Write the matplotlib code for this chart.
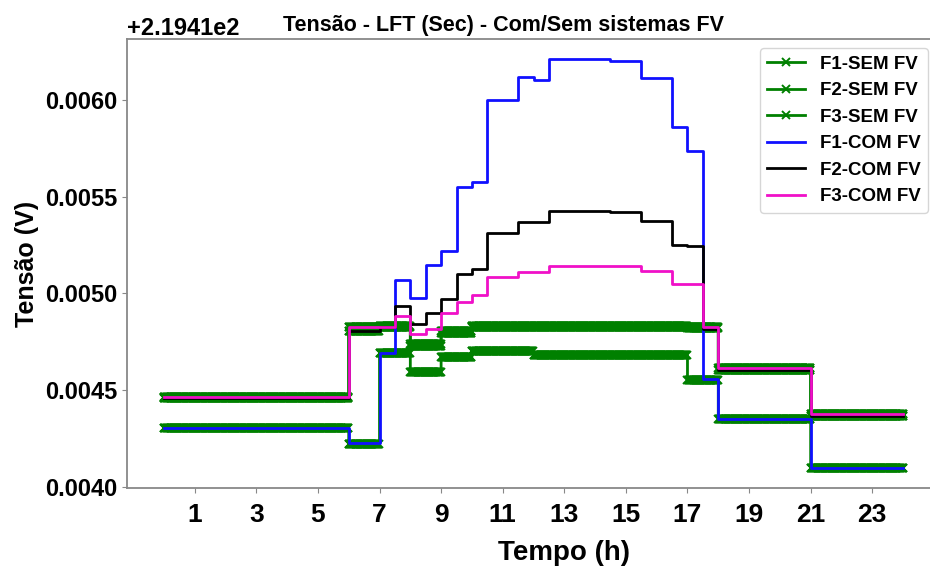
import numpy as np
import matplotlib
matplotlib.use("Agg")
import matplotlib.pyplot as plt
from matplotlib.ticker import MultipleLocator

plt.rcParams['font.family'] = ['Liberation Sans', 'DejaVu Sans']
plt.rcParams['font.weight'] = 'bold'

BASE = 219.41

# ---- data ----
# SEM FV: hourly values, hours 0..23
sem_f1 = [0.004305]*6 + [0.004222, 0.004693, 0.004595, 0.004669, 0.004700, 0.004700] + \
         [0.004681]*5 + [0.004552] + [0.004350]*3 + [0.004100]*3
sem_f2 = [0.004458]*6 + [0.004807, 0.004824, 0.004729, 0.004793] + [0.004825]*7 + \
         [0.004821] + [0.004604]*3 + [0.004364]*3
sem_f3 = [0.004467]*6 + [0.004824, 0.004830, 0.004738, 0.004805] + [0.004833]*7 + \
         [0.004826] + [0.004617]*3 + [0.004376]*3

# COM FV: half-hourly values, 0.0, 0.5, ..., 23.5
com_f1 = [0.004305]*12 + [0.004226]*2 + [0.004693, 0.005069, 0.004976, 0.005148,
          0.005217, 0.005548, 0.005574, 0.005997, 0.005997, 0.006117, 0.006104,
          0.006209, 0.006209, 0.006209, 0.006209, 0.006200, 0.006200, 0.006114,
          0.006114, 0.005859, 0.005735, 0.004557] + [0.004350]*6 + [0.004100]*6
com_f2 = [0.004458]*12 + [0.004807]*2 + [0.004824, 0.004936, 0.004842, 0.004897,
          0.004971, 0.005100, 0.005126, 0.005312, 0.005312, 0.005371, 0.005371,
          0.005426, 0.005426, 0.005426, 0.005426, 0.005423, 0.005423, 0.005376,
          0.005376, 0.005252, 0.005247, 0.004818] + [0.004604]*6 + [0.004364]*6
com_f3 = [0.004467]*12 + [0.004824]*2 + [0.004824, 0.004885, 0.004790, 0.004816,
          0.004897, 0.004953, 0.004990, 0.005083, 0.005083, 0.005110, 0.005110,
          0.005142, 0.005142, 0.005142, 0.005142, 0.005142, 0.005142, 0.005117,
          0.005117, 0.005050, 0.005050, 0.004824] + [0.004617]*6 + [0.004376]*6

sem_labels = ['F1-SEM FV', 'F2-SEM FV', 'F3-SEM FV']
com_labels = ['F1-COM FV', 'F2-COM FV', 'F3-COM FV']
com_colors = ['#1010ff', 'black', '#f010c8']

fig = plt.figure(figsize=(9.3, 5.67), dpi=100)
ax = fig.add_axes([127/930, 79/567, 813/930, 449/567])

# SEM: measured per minute (step values held within each hour)
per_h = 60
t_sem = np.arange(24*per_h + 1) / per_h
for vals, lab in zip([sem_f1, sem_f2, sem_f3], sem_labels):
    v = np.append(np.repeat(vals, per_h), vals[-1]) + BASE
    ax.step(t_sem, v, where='post', color='green', lw=2, marker='x',
            markersize=5.5, markeredgewidth=1.4, label=lab, zorder=2)

t_com = np.arange(49) * 0.5
for vals, lab, c in zip([com_f1, com_f2, com_f3], com_labels, com_colors):
    v = np.append(vals, vals[-1]) + BASE
    ax.step(t_com, v, where='post', color=c, lw=2, label=lab, zorder=3)

ax.set_xticks(np.arange(1, 24, 2))
ax.yaxis.set_major_locator(MultipleLocator(0.0005))
ax.tick_params(axis='y', labelsize=17, colors='#888888', labelcolor='black')
ax.tick_params(axis='x', labelsize=19, colors='#888888', labelcolor='black', pad=7)
ax.yaxis.get_offset_text().set_fontsize(17)
ax.yaxis.get_offset_text().set_fontweight('bold')
for s in ax.spines.values():
    s.set_color('#888888')
    s.set_linewidth(1.3)

ax.set_xlabel('Tempo (h)', fontsize=20, fontweight='bold', x=(563.5-127)/813,
              labelpad=10)
ax.set_ylabel('Tensão (V)', fontsize=18, fontweight='bold')
ax.set_title('Tensão - LFT (Sec) - Com/Sem sistemas FV', fontsize=15.5,
             fontweight='bold', x=(503.5-127)/813)

leg = ax.legend(loc='upper right', bbox_to_anchor=(928/930, 1-48/567),
                bbox_transform=fig.transFigure, borderaxespad=0,
                prop={'size': 13.5, 'weight': 'bold'}, numpoints=1)

fig.savefig('out.png', dpi=100)
